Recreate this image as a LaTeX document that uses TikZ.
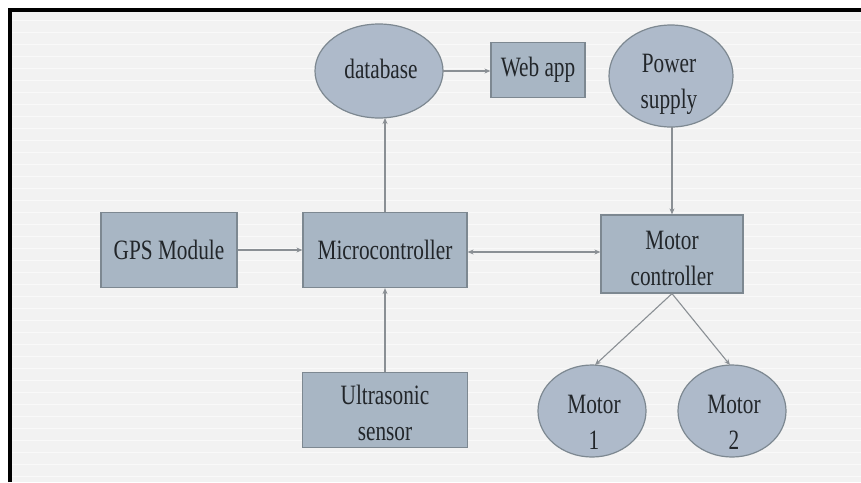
\documentclass[tikz,border=0pt]{standalone}
\usepackage{fontspec}
\setmainfont{Liberation Serif}[FakeStretch=0.76]
\usetikzlibrary{arrows.meta}
\definecolor{bg}{HTML}{F2F2F2}
\definecolor{boxfill}{HTML}{A8B6C4}
\definecolor{ellfill}{HTML}{AEBACA}
\definecolor{boxline}{HTML}{7D8891}
\definecolor{conn}{HTML}{8A8F94}
\definecolor{txt}{HTML}{22262A}
\tikzset{
  blk/.style={draw=boxline, line width=1.2pt, fill=boxfill, inner sep=0pt, align=center,
    text=txt, font=\fontsize{28}{36}\selectfont},
  elltxt/.style={inner sep=0pt, align=center, text=txt, font=\fontsize{28}{36}\selectfont},
  ellshape/.style={draw=boxline, line width=1.2pt, fill=ellfill},
  conn/.style={draw=conn, line width=1.1pt, -{Stealth[length=6pt,width=5pt]}},
  biconn/.style={draw=conn, line width=1.1pt, {Stealth[length=6pt,width=5pt]}-{Stealth[length=6pt,width=5pt]}},
}
\begin{document}
\begin{tikzpicture}[x=1pt,y=-1pt]
\useasboundingbox (0,0) rectangle (861,482);
\fill[white] (0,0) rectangle (861,482);
\fill[bg] (10,10) rectangle (861,482);
\foreach \yy in {20,32,...,482} {\draw[white!50!bg, line width=0.6pt] (12,\yy) -- (861,\yy);}
\draw[black, line width=4pt] (10,482) -- (10,10) -- (861,10);

% ellipses
\path[ellshape] (379,71) ellipse [x radius=64, y radius=47];
\node[elltxt] (db) at (381,69) {database};

\path[ellshape] (671,76) ellipse [x radius=62, y radius=51];
\node[elltxt] (ps) at (669,84) {Power\\supply};

\path[ellshape] (592,411) ellipse [x radius=54, y radius=46];
\node[elltxt] (m1) at (594,422) {Motor\\1};

\path[ellshape] (732,411) ellipse [x radius=54, y radius=46];
\node[elltxt] (m2) at (734,422) {Motor\\2};

% boxes
\node[blk, minimum width=94pt, minimum height=55pt] (web) at (538,70) {Web app};
\node[blk, minimum width=136pt, minimum height=75pt] (gps) at (169,250) {GPS Module};
\node[blk, minimum width=164pt, minimum height=75pt] (mc) at (385,250) {Microcontroller};
\node[blk, minimum width=142pt, minimum height=78pt] (mot) at (672,254) {};
\node[elltxt] (motlbl) at (672,258) {Motor\\controller};
\node[blk, minimum width=165pt, minimum height=75pt] (us) at (385,410) {};
\node[elltxt] (uslbl) at (385,413) {Ultrasonic\\sensor};

\coordinate (dbR) at (443,71);
\coordinate (dbB) at (385,118);
\coordinate (psB) at (672,127);
\coordinate (m1T) at (595,365);
\coordinate (m2T) at (730,365);

\draw[conn] (dbR) -- (web.west |- dbR);
\draw[conn] (mc.north -| dbB) -- (dbB);
\draw[conn] (gps.east) -- (mc.west);
\draw[biconn] (mc.east |- 0,252) -- (mot.west |- 0,252);
\draw[conn] (us.north) -- (mc.south);
\draw[conn] (psB) -- (mot.north);
\draw[conn] (mot.south) -- (m1T);
\draw[conn] (mot.south) -- (m2T);
\end{tikzpicture}
\end{document}
